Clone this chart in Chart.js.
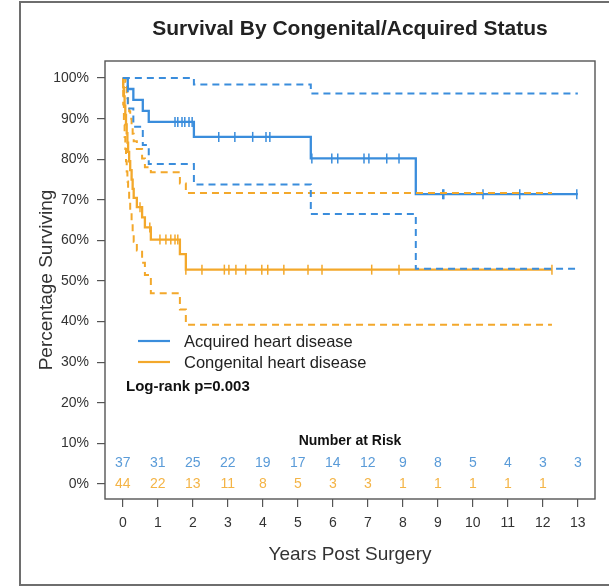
<!DOCTYPE html>
<html>
<head>
<meta charset="utf-8">
<title>Survival By Congenital/Acquired Status</title>
<script src="https://cdn.jsdelivr.net/npm/chart.js@4.4.1/dist/chart.umd.min.js"></script>
<style>
  html, body { margin: 0; padding: 0; background: #fff; overflow: hidden; }
  canvas { display: block; }
</style>
</head>
<body>
<canvas id="km" width="609" height="587"></canvas>
<script>
// Axis ticks
const years = [0, 1, 2, 3, 4, 5, 6, 7, 8, 9, 10, 11, 12, 13];
const yTicks = [0, 10, 20, 30, 40, 50, 60, 70, 80, 90, 100];

// Acquired heart disease: Kaplan-Meier estimate with 95% band
const acqTimes = [0, 0.14, 0.30, 0.57, 0.74, 2.03, 5.37, 8.37, 13.0];
const acqSurv  = [100, 97.3, 94.6, 91.9, 89.2, 85.5, 80.2, 71.4, 71.4];
const acqUpper = [100, 100, 100, 100, 100, 98.4, 96.2, 96.2, 96.2];
const acqLower = [100, 92.5, 88.0, 83.5, 78.8, 73.8, 66.5, 53.0, 53.0];
const acqCensored = [1.49, 1.57, 1.69, 1.77, 1.89, 1.98, 2.74, 3.20, 3.71, 4.09, 4.20,
                     5.40, 5.97, 6.14, 6.89, 7.03, 7.54, 7.89, 9.14, 9.17, 10.29, 11.34, 12.97];
const acqAtRisk = [37, 31, 25, 22, 19, 17, 14, 12, 9, 8, 5, 4, 3, 3];

// Congenital heart disease: Kaplan-Meier estimate with 95% band
const conTimes = [0, 0.01, 0.03, 0.05, 0.07, 0.09, 0.11, 0.13, 0.15, 0.18, 0.21, 0.25, 0.28, 0.31, 0.40, 0.55, 0.63, 0.80, 1.63, 1.80, 12.26];
const conSurv  = [100, 97.7, 95.5, 93.2, 90.9, 88.6, 86.4, 84.1, 81.8, 79.5, 77.3, 75.0, 72.7, 70.5, 68.2, 65.7, 63.2, 60.2, 56.6, 52.8, 52.8];
const conUpper = [100, 100, 100, 99.9, 99.0, 97.8, 96.5, 95.0, 93.5, 91.8, 90.0, 88.2, 86.3, 84.4, 82.5, 80.2, 78.0, 76.8, 74.0, 71.7, 71.7];
const conLower = [100, 93.5, 88.5, 85.5, 82.5, 79.5, 77.0, 74.5, 72.0, 69.5, 67.0, 64.5, 62.0, 59.7, 57.5, 54.5, 51.5, 47.0, 43.0, 39.2, 39.2];
const conCensored = [0.49, 0.77, 1.06, 1.23, 1.37, 1.49, 1.57, 1.80, 2.26, 2.90, 3.03, 3.23, 3.51,
                     3.97, 4.14, 4.60, 5.29, 5.69, 7.11, 7.89, 12.26];
const conAtRisk = [44, 22, 13, 11, 8, 5, 3, 3, 1, 1, 1, 1, 1];

const groupNames = ['Acquired heart disease', 'Congenital heart disease'];
const pValueText = 'Log-rank p=0.003';

const BLUE = '#3a8ddc';
const ORANGE = '#f3a82b';
const BLUE_TXT = '#5a9bd8';
const ORANGE_TXT = '#f4b446';
const FONT = '"Liberation Sans", Arial, Helvetica, sans-serif';

const pts = (xs, ys) => xs.map((x, i) => ({ x: x, y: ys[i] }));

// survival level of a step curve at time t (used to seat censor ticks on the curve)
function levelAt(times, surv, t) {
  let v = surv[0];
  for (let i = 0; i < times.length; i++) {
    if (times[i] <= t + 1e-9) v = surv[i];
  }
  return v;
}

function stepSet(xs, ys, color, dashed) {
  return {
    data: pts(xs, ys),
    borderColor: color,
    borderWidth: dashed ? 2 : 2.3,
    borderDash: dashed ? [7, 5] : [],
    stepped: 'before',
    pointRadius: 0,
    fill: false,
    tension: 0
  };
}

function censorSet(marks, times, surv, color) {
  return {
    data: marks.map(t => ({ x: t, y: levelAt(times, surv, t) })),
    showLine: false,
    pointStyle: 'line',
    pointRotation: 90,
    pointRadius: 5,
    pointHoverRadius: 5,
    pointBorderColor: color,
    pointBorderWidth: 1.5,
    borderColor: color
  };
}

// frame, plot box, title, legend, p-value and risk table
const decorations = {
  id: 'decorations',
  beforeDraw(chart) {
    const ctx = chart.ctx;
    ctx.save();
    ctx.fillStyle = '#fff';
    ctx.fillRect(0, 0, chart.width, chart.height);
    ctx.strokeStyle = '#6e6e6e';
    ctx.lineWidth = 2;
    ctx.strokeRect(20, 2, 620, 583);
    ctx.restore();
  },
  afterDraw(chart) {
    const ctx = chart.ctx;
    const a = chart.chartArea;
    const xs = chart.scales.x, ys = chart.scales.y;
    ctx.save();
    // plot box
    ctx.strokeStyle = '#555';
    ctx.lineWidth = 1.4;
    ctx.strokeRect(a.left, a.top, a.right - a.left, a.bottom - a.top);

    // main title
    const cx = (a.left + a.right) / 2;
    ctx.fillStyle = '#222';
    ctx.font = 'bold 21px ' + FONT;
    ctx.textAlign = 'center';
    ctx.textBaseline = 'middle';
    ctx.fillText('Survival By Congenital/Acquired Status', cx, 29);

    // legend
    ctx.lineWidth = 2.2;
    [[BLUE, 341], [ORANGE, 362]].forEach(([c, y], i) => {
      ctx.strokeStyle = c;
      ctx.beginPath();
      ctx.moveTo(138, y);
      ctx.lineTo(170, y);
      ctx.stroke();
      ctx.fillStyle = '#222';
      ctx.font = '16.5px ' + FONT;
      ctx.textAlign = 'left';
      ctx.fillText(groupNames[i], 184, y + 1);
    });

    // log-rank result
    ctx.font = 'bold 15px ' + FONT;
    ctx.fillStyle = '#111';
    ctx.fillText(pValueText, 126, 387);

    // number at risk table
    ctx.textAlign = 'center';
    ctx.font = 'bold 14px ' + FONT;
    ctx.fillStyle = '#111';
    ctx.fillText('Number at Risk', cx, ys.getPixelForValue(10.6));
    ctx.font = '14px ' + FONT;
    ctx.fillStyle = BLUE_TXT;
    acqAtRisk.forEach((n, i) => ctx.fillText(String(n), xs.getPixelForValue(years[i]), ys.getPixelForValue(5.2)));
    ctx.fillStyle = ORANGE_TXT;
    conAtRisk.forEach((n, i) => ctx.fillText(String(n), xs.getPixelForValue(years[i]), ys.getPixelForValue(0)));
    ctx.restore();
  }
};

new Chart(document.getElementById('km'), {
  type: 'line',
  data: {
    datasets: [
      stepSet(acqTimes, acqUpper, BLUE, true),
      stepSet(acqTimes, acqLower, BLUE, true),
      stepSet(conTimes, conUpper, ORANGE, true),
      stepSet(conTimes, conLower, ORANGE, true),
      stepSet(conTimes, conSurv, ORANGE, false),
      stepSet(acqTimes, acqSurv, BLUE, false),
      censorSet(conCensored, conTimes, conSurv, ORANGE),
      censorSet(acqCensored, acqTimes, acqSurv, BLUE)
    ]
  },
  options: {
    responsive: false,
    devicePixelRatio: 1,
    animation: false,
    events: [],
    layout: { padding: { top: 61, right: 14, left: 0, bottom: 0 } },
    plugins: {
      legend: { display: false },
      title: { display: false },
      tooltip: { enabled: false }
    },
    scales: {
      x: {
        type: 'linear',
        min: -0.51,
        max: 13.49,
        afterBuildTicks(s) { s.ticks = years.map(v => ({ value: v })); },
        afterFit(s) { s.height = 88; },
        grid: { display: true, drawOnChartArea: false, drawTicks: true, tickLength: 8, color: '#555', lineWidth: 1.2 },
        border: { display: false },
        ticks: { autoSkip: false, maxRotation: 0, padding: 8, color: '#333', font: { family: FONT, size: 14 } },
        title: { display: true, text: 'Years Post Surgery', color: '#333', font: { family: FONT, size: 19 }, padding: { top: 0, bottom: 21 } }
      },
      y: {
        type: 'linear',
        min: -3.7,
        max: 104.2,
        afterBuildTicks(s) { s.ticks = yTicks.map(v => ({ value: v })); },
        afterFit(s) { s.width = 105; },
        grid: { display: true, drawOnChartArea: false, drawTicks: true, tickLength: 8, color: '#555', lineWidth: 1.2 },
        border: { display: false },
        ticks: { autoSkip: false, padding: 8, color: '#333', font: { family: FONT, size: 14 }, callback: v => v + '%' },
        title: { display: true, text: 'Percentage Surviving', color: '#333', font: { family: FONT, size: 19 }, padding: { top: 35, bottom: 0 } }
      }
    }
  },
  plugins: [decorations]
});
</script>
</body>
</html>
